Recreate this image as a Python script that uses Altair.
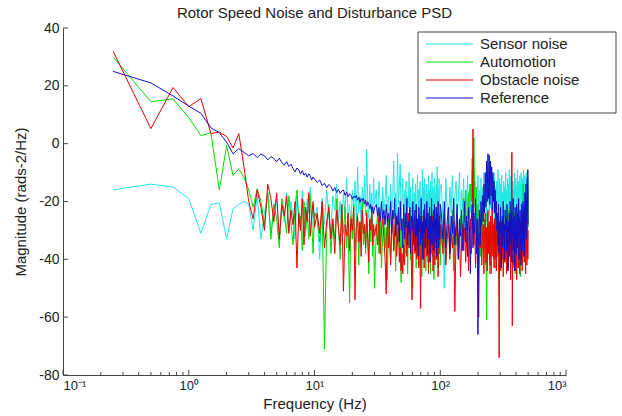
import altair as alt
import numpy as np
import pandas as pd

# ---------------- data ----------------
LOW_FREQ = [0.25, 0.5, 0.75, 1.0, 1.25, 1.5, 1.75, 2.0, 2.25, 2.5, 2.75, 3.0]
BANDS = [(3.25, 10.0), (10.5, 30.0), (31.0, 100.0), (102.0, 500.0)]

SERIES_NAMES = ["Sensor noise", "Automotion", "Obstacle noise", "Reference"]
SERIES_COLORS = ["#22E6E6", "#00DD00", "#EE0000", "#1212C8"]

sensor_low = [-16, -14, -15, -19, -31, -21, -20.5, -33, -22.5, -21, -20, -21]
sensor_b1 = [-30, -18, -33, -24, -17, -31, -22, -19, -33, -21, -27, -17, -30, -20,
             -25, -33, -18, -23, -29, -16, -26, -32, -19, -24, -15, -28, -21, -26]
sensor_b2 = [-22, -40, -19, -28, -16, -25, -31, -18, -23, -14, -27, -20, -30, -17,
             -24, -12, -26, -21, -29, -16, -23, -13, -27, -8, -24, -18, -28, -15,
             -22, -11, -25, -2, -20, -26, -14, -23, -17, -29, -12, -21]
sensor_b3 = [-16, -27, -13, -22, -30, -15, -24, -19, -11, -26,
             -18, -29, -14, -23, -20, -6, -25, -17, -28, -3.5,
             -21, -15, -7, -26, -19, -12, -29, -16, -24, -13,
             -27, -18, -22, -10, -31, -15, -25, -19, -12, -28,
             -17, -23, -14, -30, -20, -11, -26, -16, -24, -13,
             -29, -18, -21, -9, -27, -15, -25, -12, -30, -19,
             -14, -26, -17, -22, -11, -28, -16, -24, -13, -27,
             -19, -10, -25, -15, -29, -18, -12, -23, -17, -26,
             -14, -21, -8, -27, -16, -24, -12, -28, -19, -15]
sensor_b4 = [-14, -26, -50, -12, -22, -29, -15, -24, -11, -27,
             -18, -13, -25, -20, -10, -28, -16, -23, -12, -30,
             -17, -21, -11, -26, -14, -24, -19, -9, -27, -15,
             -22, -13, -29, -18, -11, -25, -16, -28, -12, -21,
             -15, -26, -10, -23, -18, -13, -27, -8, -20, -14,
             -25, -11, -22, -17, -29, -12, -19, -24, -10, -26,
             -15, -21, -13, -28, -16, -9, -24, -18, -12, -27,
             -14, -22, -11, -25, -17, -30, -13, -20, -15, -26,
             -10, -23, -16, -28, -12, -19, -14, -25, -9, -21,
             -17, -27, -11, -24, -15, -20, -13, -29, -16, -22,
             -10, -26, -14, -18, -12, -25, -15, -21, -9, -27,
             -13, -20, -16, -24, -11, -28, -14, -19, -10, -23,
             -17, -12, -26, -15, -21, -9, -25, -13, -18, -11,
             -24, -14, -20, -10, -27, -13, -16, -9, -22, -12]

auto_low = [30, 14.5, 15.5, 9, 2.8, 3.8, -16, -0.7, -11, -8.7, -11.7, -16]
auto_b1 = [-22, -15.6, -20, -28, -17, -33, -21, -26, -36, -19, -24, -31, -18, -27,
           -35, -22, -16, -29, -25, -37, -20, -30, -23, -33, -18, -27, -38, -24]
auto_b2 = [-26, -34, -22, -71, -30, -21, -38, -27, -33, -19,
           -29, -40, -24, -31, -22, -36, -28, -55, -25, -33,
           -21, -37, -29, -24, -42, -27, -32, -20, -35, -28,
           -38, -23, -31, -45, -26, -34, -22, -39, -29, -50]
auto_b3 = [-30, -24, -38, -27, -43, -32, -25, -36, -29, -47,
           -26, -34, -40, -28, -23, -37, -31, -44, -27, -35,
           -22, -39, -30, -48, -26, -33, -41, -29, -24, -38,
           -32, -45, -27, -36, -23, -40, -30, -34, -50, -28,
           -25, -37, -31, -43, -26, -35, -29, -39, -24, -42,
           -33, -27, -46, -30, -36, -25, -40, -31, -28, -44,
           -29, -35, -23, -41, -32, -26, -38, -30, -45, -27,
           -34, -24, -39, -31, -28, -47, -25, -36, -33, -22,
           -40, -29, -35, -26, -43, -31, -27, -38, -24, -42]
auto_b4 = [-28, -36, -24, -41, -30, -26, -38, -33, -23, -44,
           -29, -35, -27, -40, -31, -25, -37, -30, -19, -27,
           -16, -31, -22, -17, -26, -14, -20, -5, -12, 2,
           -18, -24, -15, -29, -21, -34, -25, -39, -27, -32,
           -23, -36, -30, -26, -42, -31, -61, -24, -37, -28,
           -33, -45, -29, -25, -38, -31, -27, -40, -34, -26,
           -43, -30, -36, -24, -39, -32, -28, -47, -31, -25,
           -37, -29, -42, -33, -26, -38, -22, -35, -30, -27,
           -41, -33, -25, -36, -29, -44, -31, -23, -38, -28,
           -34, -26, -40, -30, -19, -35, -27, -43, -32, -24,
           -37, -28, -45, -31, -26, -39, -33, -22, -36, -29,
           -42, -27, -34, -25, -38, -30, -46, -28, -35, -24,
           -40, -31, -27, -37, -14, -29, -39, -26, -33, -23,
           -36, -28, -18, -32, -25, -38, -21, -30, -16, -29]

obst_low = [32, 5.2, 19.4, 12.8, 15.6, 3.5, 4, 2.5, -1.5, 3.5, -8, -20]
obst_b1 = [-26, -16, -22, -30, -14, -19, -27, -17, -33, -21, -25, -18, -31, -23,
           -28, -20, -43, -24, -30, -19, -35, -22, -27, -17, -32, -25, -20, -29]
obst_b2 = [-24, -31, -20, -36, -27, -22, -33, -26, -38, -23,
           -29, -35, -21, -51, -28, -32, -24, -37, -26, -30,
           -22, -54, -29, -25, -34, -27, -39, -23, -31, -28,
           -36, -24, -33, -41, -26, -30, -22, -35, -28, -32]
obst_b3 = [-28, -35, -24, -38, -30, -26, -33, -40, -52, -25,
           -36, -29, -42, -31, -26, -37, -30, -24, -39, -33,
           -27, -41, -36, -44, -38, -45, -35, -42, -32, -27,
           -39, -30, -24, -36, -29, -33, -41, -54, -26, -35,
           -28, -38, -31, -25, -40, -33, -29, -43, -27, -36,
           -57, -31, -25, -40, -33, -29, -43, -27, -36, -31,
           -24, -39, -34, -28, -45, -30, -37, -26, -41, -33,
           -29, -38, -25, -44, -32, -35, -28, -42, -30, -36,
           -26, -40, -33, -27, -46, -31, -38, -29, -35, -28]
obst_b4 = [-30, -38, -26, -42, -33, -28, -40, -31, -36, -27,
           -58, -32, -25, -39, -30, -46, -34, -28, -37, -29,
           -41, -33, -27, -44, -31, -26, -38, -30, 5, -35,
           -29, -43, -32, -27, -40, -60, -31, -36, -26, -42,
           -33, -28, -45, -30, -24, -41, -29, -44, -23, -38,
           -27, -42, -25, -45, -30, -22, -39, -28, -43, -26,
           -40, -24, -44, -31, -27, -37, -32, -74, -35, -29,
           -44, -33, -27, -40, -31, -46, -35, -28, -41, -32,
           -38, -26, -45, -30, -36, -29, -43, -33, -27, -39,
           -31, -47, -34, -28, -3, -63, -36, -29, -42, -31,
           -37, -27, -44, -33, -39, -28, -47, -32, -36, -26,
           -43, -30, -38, -29, -45, -34, -27, -40, -31, -37,
           -28, -44, -33, -24, -39, -30, -25, -41, -32, -36,
           -27, -45, -31, -38, -29, -42, -33, -26, -40, -30]

ref_low = [25, 21, 16.5, 13, 10.5, 5.5, 3.8, 0.5, -3.5, -1.7, -3, -4.2]
ref_b1 = [-3.4, -4.8, -3.6, -4.2, -5.6, -4.5, -5.1, -6.3, -5.0, -6.6, -7.4, -6.2,
          -7.9, -7.1, -8.6, -9.8, -8.4, -9.1, -10.5, -9.3, -10.9, -10.2, -11.6,
          -10.4, -11.2, -12.6, -11.5, -12.2]
ref_b2 = [-13.4, -12.6, -14.5, -13.7, -15.3, -14.1, -14.8, -16.4, -15.2, -16.9,
          -15.8, -17.2, -16.3, -16.0, -17.9, -16.8, -18.4, -17.3, -17.9, -19.2,
          -18.1, -18.7, -17.9, -19.6, -18.5, -20.3, -19.0, -19.7, -18.8, -20.9,
          -19.6, -21.6, -20.1, -20.8, -22.4, -21.0, -23.6, -21.8, -24.3, -22.2]
ref_b3 = [-21, -25, -22, -27, -20, -26, -23, -28, -21, -27,
          -24, -29, -20, -31, -23, -26, -19, -32, -25, -28,
          -22, -34, -20, -30, -26, -36, -21, -33, -24, -29,
          -19, -35, -27, -31, -22, -38, -25, -30, -20, -34,
          -28, -23, -37, -21, -32, -26, -39, -22, -30, -25,
          -35, -19, -33, -27, -40, -23, -31, -21, -36, -26,
          -29, -20, -38, -24, -33, -28, -22, -41, -25, -31,
          -19, -35, -27, -30, -23, -37, -21, -34, -26, -29,
          -22, -39, -24, -32, -20, -36, -28, -25, -33, -21]
ref_b4 = [-24, -33, -20, -36, -27, -22, -38, -25, -31, -19,
          -35, -28, -21, -40, -26, -32, -23, -37, -29, -20,
          -34, -25, -39, -22, -30, -45, -27, -21, -36, -24,
          -31, -19, -38, -26, -66, -30, -23, -35, -20, -28,
          -18, -27, -14, -24, -10, -22, -6, -20, -3.5, -19,
          -4, -21, -6, -18, -8, -23, -10, -20, -13, -24,
          -16, -26, -20, -30, -24, -35, -21, -38, -27, -31,
          -22, -43, -29, -25, -36, -20, -33, -28, -40, -23,
          -30, -26, -37, -21, -34, -44, -27, -31, -24, -39,
          -20, -35, -28, -23, -41, -26, -32, -19, -37, -29,
          -25, -44, -22, -33, -27, -38, -21, -30, -36, -24,
          -29, -19, -40, -26, -32, -23, -35, -28, -42, -21,
          -31, -25, -37, -20, -34, -27, -22, -39, -26, -17,
          -30, -23, -14, -33, -19, -27, -12, -25, -9, -28]

SERIES_VALUES = [
    (sensor_low, [sensor_b1, sensor_b2, sensor_b3, sensor_b4]),
    (auto_low, [auto_b1, auto_b2, auto_b3, auto_b4]),
    (obst_low, [obst_b1, obst_b2, obst_b3, obst_b4]),
    (ref_low, [ref_b1, ref_b2, ref_b3, ref_b4]),
]

Y_TICKS = [-80, -60, -40, -20, 0, 20, 40]
X_MAJOR = [0.1, 1, 10, 100, 1000]
X_MINOR = [k * 10.0 ** d for d in range(-1, 3) for k in range(2, 10)]


def build(name, low, bands):
    f = list(LOW_FREQ)
    v = list(low)
    for (a, b), vals in zip(BANDS, bands):
        f += list(np.linspace(a, b, len(vals)))
        v += list(vals)
    return pd.DataFrame({"freq": f, "mag": v, "series": name})


# ---------------- chart ----------------
W, H = 503, 347
FONT = "Liberation Sans"

x_enc = alt.X(
    "freq:Q",
    scale=alt.Scale(type="log", domain=[0.1, 1000], nice=False),
    axis=alt.Axis(
        values=X_MAJOR,
        labelExpr="datum.value < 0.5 ? '10⁻¹' : datum.value < 5 ? '10⁰' : datum.value < 50 ? '10¹' : datum.value < 500 ? '10²' : '10³'",
        tickSize=0, grid=False, domainColor="#444", labelColor="#222",
        labelFont=FONT, labelFontSize=13, labelPadding=4,
        title="Frequency (Hz)", titleFont=FONT, titleFontSize=15,
        titleFontWeight="normal", titleColor="#222", titlePadding=4,
    ),
)
y_enc = alt.Y(
    "mag:Q",
    scale=alt.Scale(domain=[-80, 40], nice=False),
    axis=alt.Axis(
        values=Y_TICKS, labelExpr="datum.value + ''",
        tickSize=0, grid=False, domainColor="#444", labelColor="#222",
        labelFont=FONT, labelFontSize=14, labelPadding=4,
        title="Magnitude (rads-2/Hz)", titleFont=FONT, titleFontSize=15,
        titleFontWeight="normal", titleColor="#222", titlePadding=10,
    ),
)

layers = []
for name, color, (low, bands) in zip(SERIES_NAMES, SERIES_COLORS, SERIES_VALUES):
    df = build(name, low, bands)
    layers.append(
        alt.Chart(df).mark_line(color=color, strokeWidth=1, clip=True).encode(x=x_enc, y=y_enc)
    )

# inward tick marks (Matlab style)
xt_major = pd.DataFrame({"freq": X_MAJOR})
xt_minor = pd.DataFrame({"freq": X_MINOR})
layers.append(alt.Chart(xt_major).mark_rule(color="#444", strokeWidth=1).encode(
    x=x_enc, y=alt.value(H), y2=alt.value(H - 5)))
layers.append(alt.Chart(xt_minor).mark_rule(color="#444", strokeWidth=1).encode(
    x=x_enc, y=alt.value(H), y2=alt.value(H - 3)))
yt = pd.DataFrame({"mag": Y_TICKS})
layers.append(alt.Chart(yt).mark_rule(color="#444", strokeWidth=1).encode(
    y=y_enc, x=alt.value(0), x2=alt.value(5)))

# legend box
one = pd.DataFrame({"k": [0]})
layers.append(alt.Chart(one).mark_rect(fill="white", stroke="#444", strokeWidth=1).encode(
    x=alt.value(355), x2=alt.value(553), y=alt.value(4), y2=alt.value(85)))
for i, (name, color) in enumerate(zip(SERIES_NAMES, SERIES_COLORS)):
    yy = 16 + 18 * i
    layers.append(alt.Chart(one).mark_rule(color=color, strokeWidth=1).encode(
        x=alt.value(363), x2=alt.value(410), y=alt.value(yy)))
    layers.append(alt.Chart(one).mark_text(
        align="left", baseline="middle", font=FONT, fontSize=15, color="#222"
    ).encode(x=alt.value(417), y=alt.value(yy), text=alt.value(name)))

chart = alt.layer(*layers).properties(
    width=W, height=H,
    title=alt.TitleParams(
        "Rotor Speed Noise and Disturbance PSD", font=FONT, fontSize=15,
        fontWeight="normal", color="#222", anchor="middle", offset=0,
    ),
    padding={"left": 63, "top": 28, "right": 56, "bottom": 41},
    autosize="none",
).configure_view(stroke=None)

chart.save("out.html", embed_options={"renderer": "svg", "actions": False})
